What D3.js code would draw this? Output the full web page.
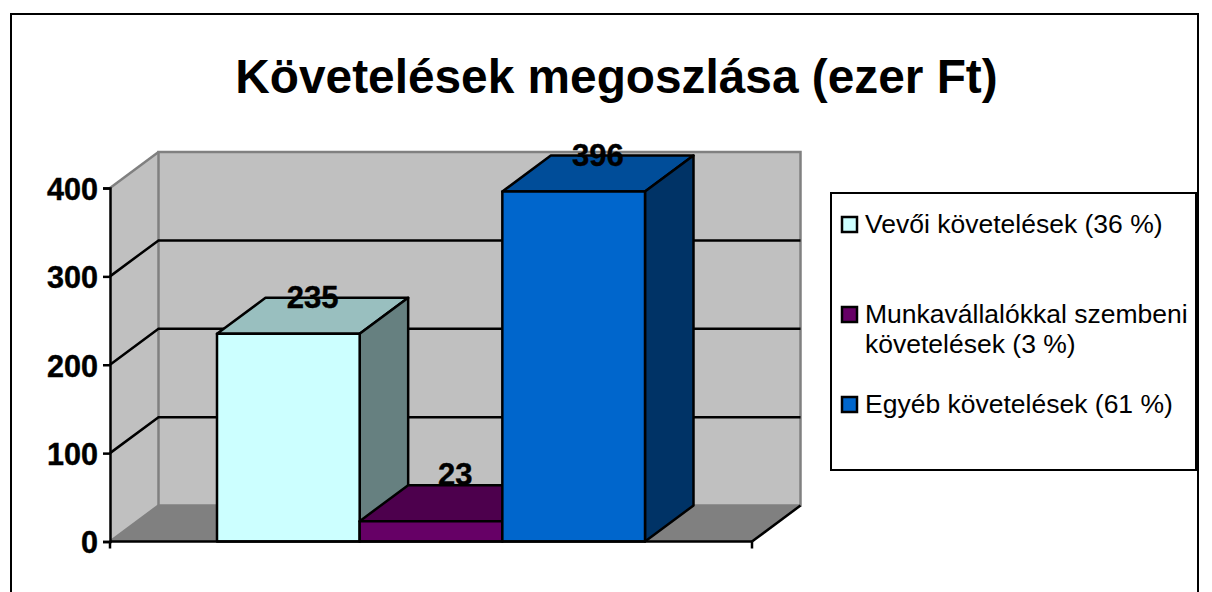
<!DOCTYPE html>
<html>
<head>
<meta charset="utf-8">
<script src="https://cdn.jsdelivr.net/npm/d3@7"></script>
<style>
  html, body { margin: 0; padding: 0; background: #fff; overflow: hidden; }
  svg { display: block; font-family: "Liberation Sans", Arial, sans-serif; }
</style>
</head>
<body>
<div id="chart"></div>
<script>
// data
const categories = ["Vevői követelések", "Munkavállalókkal szembeni követelések", "Egyéb követelések"];
const values = [235, 23, 396];
const yTicks = [0, 100, 200, 300, 400];
const legendLabels = [
    ["Vevői követelések (36 %)"],
    ["Munkavállalókkal szembeni", "követelések (3 %)"],
    ["Egyéb követelések (61 %)"]
];
const frontColors = ["#CCFFFF", "#660066", "#0066CC"];
const topColors = ["#99BFBF", "#4D004D", "#004D99"];
const sideColors = ["#668080", "#330033", "#003366"];

// dimensions
const width = 1212, height = 592;
const plot = { left: 110, right: 752, bottom: 541.5, top: 188 };
const depth = { x: 48.5, y: -36 };
const lineW = 2.5;

const svg = d3.select("#chart").append("svg")
    .attr("width", width)
    .attr("height", height);

// outer frame, runs off the bottom of the picture
svg.append("rect")
    .attr("x", 11).attr("y", 14)
    .attr("width", 1187).attr("height", 600)
    .attr("fill", "#fff").attr("stroke", "#000").attr("stroke-width", 2);

svg.append("text")
    .attr("x", 616.5).attr("y", 93)
    .attr("text-anchor", "middle")
    .attr("font-size", 47.8).attr("font-weight", "bold")
    .text("Követelések megoszlása (ezer Ft)");

// scales
const xScale = d3.scaleBand()
    .domain(categories)
    .range([plot.left, plot.right])
    .paddingInner(0)
    .paddingOuter(0.75);

const yScale = d3.scaleLinear()
    .domain([0, 400])
    .range([plot.bottom, plot.top]);

const poly = pts => pts.map(p => p.join(",")).join(" ");
const back = ([x, y]) => [x + depth.x, y + depth.y];

const y0 = yScale(0), y400 = yScale(400);
const xl = plot.left, xr = plot.right;

// walls and floor
const walls = svg.append("g");
walls.append("polygon")
    .attr("points", poly([[xl, y0], [xl, y400], back([xl, y400]), back([xl, y0])]))
    .attr("fill", "#C0C0C0");
walls.append("polygon")
    .attr("points", poly([back([xl, y400]), back([xr, y400]), back([xr, y0]), back([xl, y0])]))
    .attr("fill", "#C0C0C0").attr("stroke", "#808080").attr("stroke-width", lineW);
walls.append("polygon")
    .attr("points", poly([[xl, y0], [xr, y0], back([xr, y0]), back([xl, y0])]))
    .attr("fill", "#808080");
walls.append("line")
    .attr("x1", xl).attr("y1", y400)
    .attr("x2", back([xl, y400])[0]).attr("y2", back([xl, y400])[1])
    .attr("stroke", "#808080").attr("stroke-width", lineW);
walls.append("line")
    .attr("x1", xl).attr("y1", y0)
    .attr("x2", back([xl, y0])[0]).attr("y2", back([xl, y0])[1])
    .attr("stroke", "#808080").attr("stroke-width", lineW);

// gridlines, skip the bottom and the top edge
const grid = svg.append("g").attr("fill", "none").attr("stroke", "#000").attr("stroke-width", lineW);
grid.selectAll("polyline")
    .data(yTicks.filter(d => d > 0 && d < 400))
    .join("polyline")
    .attr("points", d => poly([[xl, yScale(d)], back([xl, yScale(d)]), back([xr, yScale(d)])]));

// axes
const yAxis = d3.axisLeft(yScale).tickValues(yTicks).tickSize(7).tickPadding(5);
const yAxisG = svg.append("g")
    .attr("transform", `translate(${xl},0)`)
    .call(yAxis);
yAxisG.select(".domain").attr("stroke", "#000").attr("stroke-width", lineW);
yAxisG.selectAll(".tick line").attr("stroke", "#000").attr("stroke-width", lineW);
yAxisG.selectAll(".tick text")
    .attr("font-family", "Liberation Sans, Arial, sans-serif")
    .attr("font-size", 30.6).attr("font-weight", "bold").attr("fill", "#000")
    .attr("dy", "0.37em")
    .attr("stroke", "#000").attr("stroke-width", 0.4);

svg.append("line")
    .attr("x1", xr).attr("y1", y0)
    .attr("x2", back([xr, y0])[0]).attr("y2", back([xr, y0])[1])
    .attr("stroke", "#000").attr("stroke-width", lineW);

// bars, left to right so the next bar covers the previous top
const bars = svg.append("g").attr("stroke", "#000").attr("stroke-width", lineW).attr("stroke-linejoin", "round");
categories.forEach((c, i) => {
    const x0 = xScale(c), x1 = x0 + xScale.bandwidth();
    const yt = yScale(values[i]);
    bars.append("polygon")
        .attr("points", poly([[x0, yt], [x1, yt], back([x1, yt]), back([x0, yt])]))
        .attr("fill", topColors[i]);
    bars.append("polygon")
        .attr("points", poly([[x1, yt], [x1, y0], back([x1, y0]), back([x1, yt])]))
        .attr("fill", sideColors[i]);
    bars.append("rect")
        .attr("x", x0).attr("y", yt)
        .attr("width", x1 - x0).attr("height", y0 - yt)
        .attr("fill", frontColors[i]);
});

// x axis line goes over the bars
const xAxisG = svg.append("g").attr("stroke", "#000").attr("stroke-width", lineW);
xAxisG.append("line").attr("x1", xl).attr("x2", xr).attr("y1", y0).attr("y2", y0);
xAxisG.selectAll(".end")
    .data([xl, xr])
    .join("line")
    .attr("class", "end")
    .attr("x1", d => d).attr("x2", d => d)
    .attr("y1", y0).attr("y2", y0 + 7);

// data labels
svg.append("g")
    .attr("text-anchor", "middle")
    .attr("font-size", 31).attr("font-weight", "bold")
    .attr("stroke", "#000").attr("stroke-width", 0.4)
    .selectAll("text")
    .data(values)
    .join("text")
    .attr("x", (d, i) => xScale(categories[i]) + xScale.bandwidth() / 2 + depth.x / 2)
    .attr("y", d => yScale(d) + depth.y + (d < 50 ? 0 : 10))
    .text(d => d);

// legend
const legend = svg.append("g");
legend.append("rect")
    .attr("x", 831).attr("y", 193)
    .attr("width", 365).attr("height", 277)
    .attr("fill", "#fff").attr("stroke", "#000").attr("stroke-width", 2);

const legendY = [233, 323, 413];
legendLabels.forEach((lines, i) => {
    legend.append("rect")
        .attr("x", 842).attr("y", legendY[i] - 16)
        .attr("width", 15).attr("height", 15)
        .attr("fill", frontColors[i]).attr("stroke", "#000").attr("stroke-width", lineW);
    lines.forEach((t, j) => {
        legend.append("text")
            .attr("x", 865).attr("y", legendY[i] + j * 30)
            .attr("font-size", 26.5)
            .text(t);
    });
});
</script>
</body>
</html>
